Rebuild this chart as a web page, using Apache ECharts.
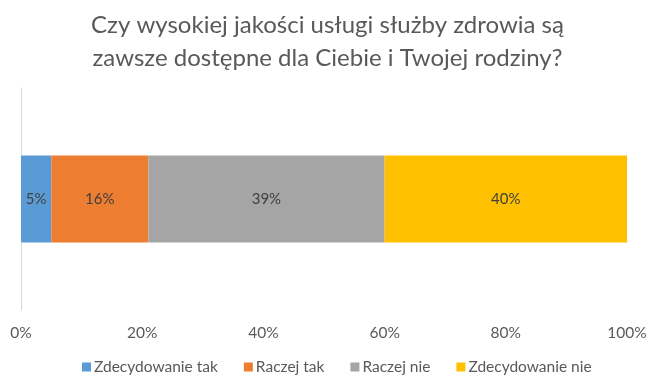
<!DOCTYPE html>
<html><head><meta charset="utf-8">
<script src="https://cdn.jsdelivr.net/npm/echarts@6/dist/echarts.min.js"></script>
<style>html,body{margin:0;padding:0;background:#fff}#c{width:655px;height:385px}</style>
</head><body><div id="c"></div>
<script>
const titleText = 'Czy wysokiej jakości usługi służby zdrowia są\nzawsze dostępne dla Ciebie i Twojej rodziny?';
const categories = [''];
const seriesNames = ['Zdecydowanie tak', 'Raczej tak', 'Raczej nie', 'Zdecydowanie nie'];
const zdecydowanieTak = [5];
const raczejTak = [16];
const raczejNie = [39];
const zdecydowanieNie = [40];
const colors = ['#5b9bd5', '#ed7d31', '#a5a5a5', '#ffc000'];
const FONT = 'Lato';
const seriesData = [zdecydowanieTak, raczejTak, raczejNie, zdecydowanieNie];
const chart = echarts.init(document.getElementById('c'));
chart.setOption({
  animation: false,
  textStyle: {fontFamily: FONT},
  title: {text: titleText, left: 'center', top: 4,
    textStyle: {fontFamily: FONT, fontSize: 24, fontWeight: 'normal', color: '#595959', lineHeight: 33}},
  legend: {bottom: 5, left: 77, itemWidth: 9, itemHeight: 9, itemGap: 26, icon: 'rect',
    textStyle: {fontFamily: FONT, fontSize: 15.5, color: '#595959', padding: [0,0,0,-2]}},
  grid: {left: 21, right: 28, top: 88, bottom: 75},
  xAxis: {type: 'value', min: 0, max: 100, interval: 20,
    axisLabel: {formatter: '{value}%', color: '#595959', fontSize: 15.5, margin: 15},
    axisLine: {show: false}, axisTick: {show: false}, splitLine: {show: false}},
  yAxis: {type: 'category', data: categories, axisTick: {show: false},
    axisLine: {show: true, lineStyle: {color: '#d9d9d9', width: 1}}, axisLabel: {show: false}},
  series: seriesNames.map((n, i) => ({
    name: n, type: 'bar', stack: 'a', data: seriesData[i], barWidth: 87,
    itemStyle: {color: colors[i]},
    label: {show: true, position: 'inside', formatter: '{c}%', color: '#404040', fontSize: 15, fontFamily: FONT}
  }))
});
</script></body></html>
